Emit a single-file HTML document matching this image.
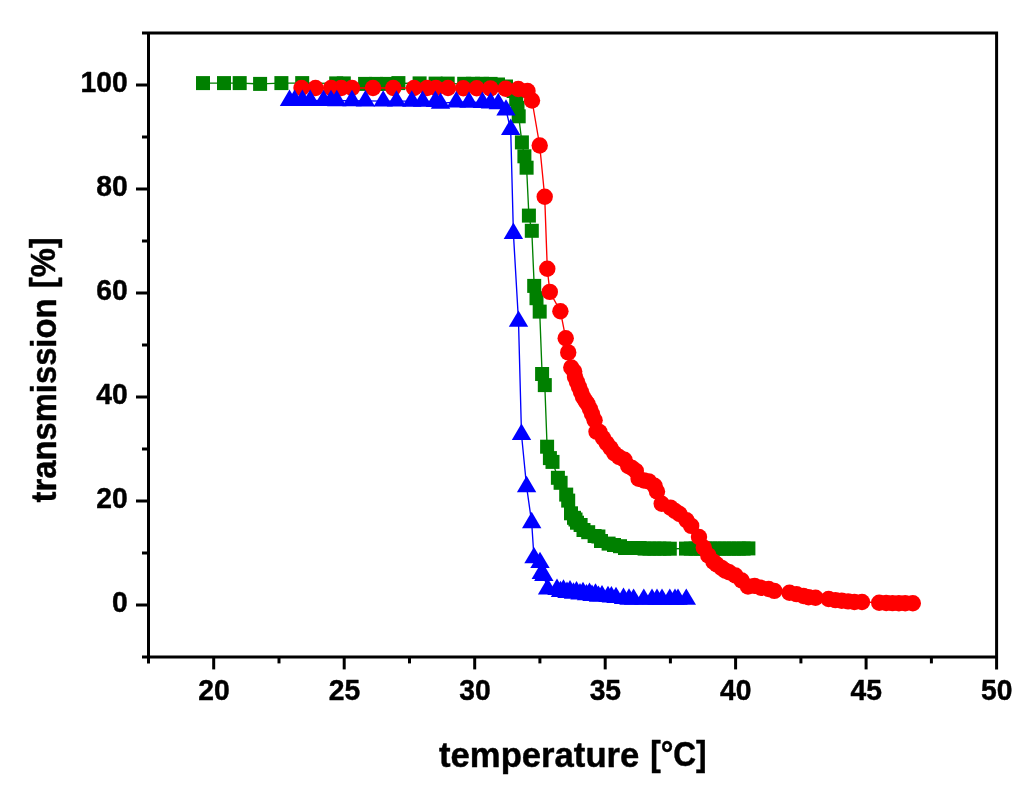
<!DOCTYPE html>
<html><head><meta charset="utf-8"><title>transmission vs temperature</title>
<style>html,body{margin:0;padding:0;background:#fff;}body{width:1024px;height:795px;overflow:hidden;}svg{display:block;}svg{will-change:transform;}text{font-family:"Liberation Sans",sans-serif;font-weight:bold;fill:#000;}</style></head><body>
<svg width="1024" height="795" viewBox="0 0 1024 795">
<rect x="0" y="0" width="1024" height="795" fill="#fff"/>
<polyline points="203.0,83.1 224.0,83.1 239.7,83.1 260.1,83.9 281.4,83.1 302.2,83.1 336.2,83.4 343.8,83.4 365.1,83.9 376.0,83.9 387.0,83.9 398.4,83.1 419.6,83.4 435.6,83.6 447.7,83.6 464.2,83.8 473.0,83.8 482.0,83.8 490.6,83.9 498.0,84.5 506.0,86.5 513.6,91.0 516.2,99.2 517.5,108.0 518.7,116.3 521.9,142.4 524.4,156.3 526.6,167.7 528.9,215.6 531.8,230.8 534.2,285.9 536.5,298.2 539.7,311.6 542.1,374.0 544.8,385.1 547.1,446.7 549.9,458.1 552.5,461.9 557.9,477.8 560.6,482.8 566.2,494.6 568.2,500.6 571.0,513.3 574.0,517.8 575.5,519.5 577.0,522.7 580.6,525.0 583.5,530.0 588.2,532.2 594.6,536.0 598.4,536.5 601.0,541.0 608.6,543.6 614.0,545.0 620.0,546.2 625.0,548.0 629.9,548.0 634.8,548.0 639.7,548.0 644.6,548.6 649.5,548.6 654.4,548.6 659.3,548.6 664.2,548.6 669.8,548.7 686.0,548.6 690.8,548.6 695.6,548.6 700.4,548.6 705.2,548.6 710.0,548.6 714.8,548.6 719.6,548.6 724.4,548.6 729.2,548.6 734.0,548.6 738.8,548.6 743.6,548.6 748.4,548.4" fill="none" stroke="#008000" stroke-width="1.35" stroke-linejoin="round"/>
<g fill="#008000">
<rect x="196.0" y="76.1" width="14" height="14"/>
<rect x="217.0" y="76.1" width="14" height="14"/>
<rect x="232.7" y="76.1" width="14" height="14"/>
<rect x="253.1" y="76.9" width="14" height="14"/>
<rect x="274.4" y="76.1" width="14" height="14"/>
<rect x="295.2" y="76.1" width="14" height="14"/>
<rect x="329.2" y="76.4" width="14" height="14"/>
<rect x="336.8" y="76.4" width="14" height="14"/>
<rect x="358.1" y="76.9" width="14" height="14"/>
<rect x="369.0" y="76.9" width="14" height="14"/>
<rect x="380.0" y="76.9" width="14" height="14"/>
<rect x="391.4" y="76.1" width="14" height="14"/>
<rect x="412.6" y="76.4" width="14" height="14"/>
<rect x="428.6" y="76.6" width="14" height="14"/>
<rect x="440.7" y="76.6" width="14" height="14"/>
<rect x="457.2" y="76.8" width="14" height="14"/>
<rect x="466.0" y="76.8" width="14" height="14"/>
<rect x="475.0" y="76.8" width="14" height="14"/>
<rect x="483.6" y="76.9" width="14" height="14"/>
<rect x="491.0" y="77.5" width="14" height="14"/>
<rect x="499.0" y="79.5" width="14" height="14"/>
<rect x="506.6" y="84.0" width="14" height="14"/>
<rect x="509.2" y="92.2" width="14" height="14"/>
<rect x="510.5" y="101.0" width="14" height="14"/>
<rect x="511.7" y="109.3" width="14" height="14"/>
<rect x="514.9" y="135.4" width="14" height="14"/>
<rect x="517.4" y="149.3" width="14" height="14"/>
<rect x="519.6" y="160.7" width="14" height="14"/>
<rect x="521.9" y="208.6" width="14" height="14"/>
<rect x="524.8" y="223.8" width="14" height="14"/>
<rect x="527.2" y="278.9" width="14" height="14"/>
<rect x="529.5" y="291.2" width="14" height="14"/>
<rect x="532.7" y="304.6" width="14" height="14"/>
<rect x="535.1" y="367.0" width="14" height="14"/>
<rect x="537.8" y="378.1" width="14" height="14"/>
<rect x="540.1" y="439.7" width="14" height="14"/>
<rect x="542.9" y="451.1" width="14" height="14"/>
<rect x="545.5" y="454.9" width="14" height="14"/>
<rect x="550.9" y="470.8" width="14" height="14"/>
<rect x="553.6" y="475.8" width="14" height="14"/>
<rect x="559.2" y="487.6" width="14" height="14"/>
<rect x="561.2" y="493.6" width="14" height="14"/>
<rect x="564.0" y="506.3" width="14" height="14"/>
<rect x="567.0" y="510.8" width="14" height="14"/>
<rect x="568.5" y="512.5" width="14" height="14"/>
<rect x="570.0" y="515.7" width="14" height="14"/>
<rect x="573.6" y="518.0" width="14" height="14"/>
<rect x="576.5" y="523.0" width="14" height="14"/>
<rect x="581.2" y="525.2" width="14" height="14"/>
<rect x="587.6" y="529.0" width="14" height="14"/>
<rect x="591.4" y="529.5" width="14" height="14"/>
<rect x="594.0" y="534.0" width="14" height="14"/>
<rect x="601.6" y="536.6" width="14" height="14"/>
<rect x="607.0" y="538.0" width="14" height="14"/>
<rect x="613.0" y="539.2" width="14" height="14"/>
<rect x="618.0" y="541.0" width="14" height="14"/>
<rect x="622.9" y="541.0" width="14" height="14"/>
<rect x="627.8" y="541.0" width="14" height="14"/>
<rect x="632.7" y="541.0" width="14" height="14"/>
<rect x="637.6" y="541.6" width="14" height="14"/>
<rect x="642.5" y="541.6" width="14" height="14"/>
<rect x="647.4" y="541.6" width="14" height="14"/>
<rect x="652.3" y="541.6" width="14" height="14"/>
<rect x="657.2" y="541.6" width="14" height="14"/>
<rect x="662.8" y="541.7" width="14" height="14"/>
<rect x="679.0" y="541.6" width="14" height="14"/>
<rect x="683.8" y="541.6" width="14" height="14"/>
<rect x="688.6" y="541.6" width="14" height="14"/>
<rect x="693.4" y="541.6" width="14" height="14"/>
<rect x="698.2" y="541.6" width="14" height="14"/>
<rect x="703.0" y="541.6" width="14" height="14"/>
<rect x="707.8" y="541.6" width="14" height="14"/>
<rect x="712.6" y="541.6" width="14" height="14"/>
<rect x="717.4" y="541.6" width="14" height="14"/>
<rect x="722.2" y="541.6" width="14" height="14"/>
<rect x="727.0" y="541.6" width="14" height="14"/>
<rect x="731.8" y="541.6" width="14" height="14"/>
<rect x="736.6" y="541.6" width="14" height="14"/>
<rect x="741.4" y="541.4" width="14" height="14"/>
</g>
<polyline points="301.5,88.0 315.5,88.0 331.1,88.0 341.3,88.0 352.0,88.0 373.0,88.0 393.3,88.0 414.0,88.0 427.0,88.0 436.0,88.0 448.0,88.0 463.3,88.2 476.7,88.2 490.4,88.4 505.6,88.7 518.3,89.0 527.5,91.0 532.0,100.5 539.7,145.5 544.7,196.8 547.3,268.8 549.8,291.9 560.4,311.2 565.7,338.2 568.2,352.4 571.3,367.5 574.2,371.5 575.0,377.0 577.0,382.0 579.0,387.0 581.0,392.0 583.0,397.0 585.5,401.0 587.6,404.0 590.0,409.0 592.0,414.0 594.6,420.3 596.5,431.7 599.5,432.0 603.0,438.0 606.7,443.2 610.5,448.0 614.3,453.3 619.0,457.0 624.4,459.7 628.2,466.0 632.0,468.0 635.8,470.9 638.6,478.8 644.0,480.5 648.8,481.4 654.5,485.8 657.0,491.5 661.7,503.8 670.5,507.6 675.0,511.0 679.5,514.0 686.5,520.2 691.2,525.9 699.0,537.0 703.8,547.6 708.3,555.4 713.4,561.6 716.8,564.5 721.6,567.9 725.4,570.6 729.1,572.3 735.4,575.5 741.7,580.5 748.0,586.5 754.6,585.9 760.9,587.8 768.6,589.0 774.3,590.9 789.5,592.8 796.5,594.1 803.5,596.0 808.5,597.3 815.5,597.7 828.6,599.0 835.4,600.1 841.7,600.8 848.1,601.4 854.4,602.0 862.0,602.0 879.2,602.7 886.2,603.0 892.5,603.1 898.9,603.3 905.2,603.3 912.8,603.3" fill="none" stroke="#ff0000" stroke-width="1.35" stroke-linejoin="round"/>
<g fill="#ff0000">
<circle cx="301.5" cy="88.0" r="8.2"/>
<circle cx="315.5" cy="88.0" r="8.2"/>
<circle cx="331.1" cy="88.0" r="8.2"/>
<circle cx="341.3" cy="88.0" r="8.2"/>
<circle cx="352.0" cy="88.0" r="8.2"/>
<circle cx="373.0" cy="88.0" r="8.2"/>
<circle cx="393.3" cy="88.0" r="8.2"/>
<circle cx="414.0" cy="88.0" r="8.2"/>
<circle cx="427.0" cy="88.0" r="8.2"/>
<circle cx="436.0" cy="88.0" r="8.2"/>
<circle cx="448.0" cy="88.0" r="8.2"/>
<circle cx="463.3" cy="88.2" r="8.2"/>
<circle cx="476.7" cy="88.2" r="8.2"/>
<circle cx="490.4" cy="88.4" r="8.2"/>
<circle cx="505.6" cy="88.7" r="8.2"/>
<circle cx="518.3" cy="89.0" r="8.2"/>
<circle cx="527.5" cy="91.0" r="8.2"/>
<circle cx="532.0" cy="100.5" r="8.2"/>
<circle cx="539.7" cy="145.5" r="8.2"/>
<circle cx="544.7" cy="196.8" r="8.2"/>
<circle cx="547.3" cy="268.8" r="8.2"/>
<circle cx="549.8" cy="291.9" r="8.2"/>
<circle cx="560.4" cy="311.2" r="8.2"/>
<circle cx="565.7" cy="338.2" r="8.2"/>
<circle cx="568.2" cy="352.4" r="8.2"/>
<circle cx="571.3" cy="367.5" r="8.2"/>
<circle cx="574.2" cy="371.5" r="8.2"/>
<circle cx="575.0" cy="377.0" r="8.2"/>
<circle cx="577.0" cy="382.0" r="8.2"/>
<circle cx="579.0" cy="387.0" r="8.2"/>
<circle cx="581.0" cy="392.0" r="8.2"/>
<circle cx="583.0" cy="397.0" r="8.2"/>
<circle cx="585.5" cy="401.0" r="8.2"/>
<circle cx="587.6" cy="404.0" r="8.2"/>
<circle cx="590.0" cy="409.0" r="8.2"/>
<circle cx="592.0" cy="414.0" r="8.2"/>
<circle cx="594.6" cy="420.3" r="8.2"/>
<circle cx="596.5" cy="431.7" r="8.2"/>
<circle cx="599.5" cy="432.0" r="8.2"/>
<circle cx="603.0" cy="438.0" r="8.2"/>
<circle cx="606.7" cy="443.2" r="8.2"/>
<circle cx="610.5" cy="448.0" r="8.2"/>
<circle cx="614.3" cy="453.3" r="8.2"/>
<circle cx="619.0" cy="457.0" r="8.2"/>
<circle cx="624.4" cy="459.7" r="8.2"/>
<circle cx="628.2" cy="466.0" r="8.2"/>
<circle cx="632.0" cy="468.0" r="8.2"/>
<circle cx="635.8" cy="470.9" r="8.2"/>
<circle cx="638.6" cy="478.8" r="8.2"/>
<circle cx="644.0" cy="480.5" r="8.2"/>
<circle cx="648.8" cy="481.4" r="8.2"/>
<circle cx="654.5" cy="485.8" r="8.2"/>
<circle cx="657.0" cy="491.5" r="8.2"/>
<circle cx="661.7" cy="503.8" r="8.2"/>
<circle cx="670.5" cy="507.6" r="8.2"/>
<circle cx="675.0" cy="511.0" r="8.2"/>
<circle cx="679.5" cy="514.0" r="8.2"/>
<circle cx="686.5" cy="520.2" r="8.2"/>
<circle cx="691.2" cy="525.9" r="8.2"/>
<circle cx="699.0" cy="537.0" r="8.2"/>
<circle cx="703.8" cy="547.6" r="8.2"/>
<circle cx="708.3" cy="555.4" r="8.2"/>
<circle cx="713.4" cy="561.6" r="8.2"/>
<circle cx="716.8" cy="564.5" r="8.2"/>
<circle cx="721.6" cy="567.9" r="8.2"/>
<circle cx="725.4" cy="570.6" r="8.2"/>
<circle cx="729.1" cy="572.3" r="8.2"/>
<circle cx="735.4" cy="575.5" r="8.2"/>
<circle cx="741.7" cy="580.5" r="8.2"/>
<circle cx="748.0" cy="586.5" r="8.2"/>
<circle cx="754.6" cy="585.9" r="8.2"/>
<circle cx="760.9" cy="587.8" r="8.2"/>
<circle cx="768.6" cy="589.0" r="8.2"/>
<circle cx="774.3" cy="590.9" r="8.2"/>
<circle cx="789.5" cy="592.8" r="8.2"/>
<circle cx="796.5" cy="594.1" r="8.2"/>
<circle cx="803.5" cy="596.0" r="8.2"/>
<circle cx="808.5" cy="597.3" r="8.2"/>
<circle cx="815.5" cy="597.7" r="8.2"/>
<circle cx="828.6" cy="599.0" r="8.2"/>
<circle cx="835.4" cy="600.1" r="8.2"/>
<circle cx="841.7" cy="600.8" r="8.2"/>
<circle cx="848.1" cy="601.4" r="8.2"/>
<circle cx="854.4" cy="602.0" r="8.2"/>
<circle cx="862.0" cy="602.0" r="8.2"/>
<circle cx="879.2" cy="602.7" r="8.2"/>
<circle cx="886.2" cy="603.0" r="8.2"/>
<circle cx="892.5" cy="603.1" r="8.2"/>
<circle cx="898.9" cy="603.3" r="8.2"/>
<circle cx="905.2" cy="603.3" r="8.2"/>
<circle cx="912.8" cy="603.3" r="8.2"/>
</g>
<polyline points="289.5,100.5 294.6,100.5 302.4,100.5 310.2,100.5 323.5,100.6 331.0,100.6 336.8,100.7 352.0,100.7 365.4,100.9 383.2,101.1 396.5,101.1 411.8,101.2 422.6,101.3 435.4,101.5 440.5,103.3 456.3,101.9 469.0,102.2 482.4,102.5 490.6,102.9 498.3,103.7 506.0,110.1 510.7,129.5 513.4,233.4 518.5,321.3 521.5,434.5 526.6,486.7 531.7,522.7 534.0,557.8 540.0,562.6 541.3,573.4 543.8,575.5 547.6,588.9 557.0,589.4 560.5,591.6 563.5,590.2 567.0,592.4 570.0,591.0 573.5,593.2 576.5,591.8 580.0,594.0 583.0,592.6 586.5,594.8 589.5,593.4 592.0,595.5 595.5,594.1 598.5,596.3 602.0,595.8 608.0,596.6 611.4,597.0 616.0,597.6 623.5,598.5 629.0,599.2 633.6,599.3 643.8,599.3 652.0,599.3 657.0,599.3 662.0,599.3 669.8,599.3 675.0,599.3 678.0,599.3 686.3,599.3" fill="none" stroke="#0000ff" stroke-width="1.35" stroke-linejoin="round"/>
<g fill="#0000ff">
<polygon points="289.5,89.6 299.2,106.0 279.8,106.0"/>
<polygon points="294.6,89.6 304.3,106.0 284.9,106.0"/>
<polygon points="302.4,89.6 312.1,106.0 292.7,106.0"/>
<polygon points="310.2,89.6 319.9,106.0 300.5,106.0"/>
<polygon points="323.5,89.7 333.2,106.1 313.8,106.1"/>
<polygon points="331.0,89.7 340.7,106.1 321.3,106.1"/>
<polygon points="336.8,89.8 346.5,106.2 327.1,106.2"/>
<polygon points="352.0,89.8 361.7,106.2 342.3,106.2"/>
<polygon points="365.4,90.0 375.1,106.4 355.7,106.4"/>
<polygon points="383.2,90.2 392.9,106.6 373.5,106.6"/>
<polygon points="396.5,90.2 406.2,106.6 386.8,106.6"/>
<polygon points="411.8,90.3 421.5,106.7 402.1,106.7"/>
<polygon points="422.6,90.4 432.3,106.8 412.9,106.8"/>
<polygon points="435.4,90.6 445.1,107.0 425.7,107.0"/>
<polygon points="440.5,92.4 450.2,108.8 430.8,108.8"/>
<polygon points="456.3,91.0 466.0,107.4 446.6,107.4"/>
<polygon points="469.0,91.3 478.7,107.7 459.3,107.7"/>
<polygon points="482.4,91.6 492.1,108.0 472.7,108.0"/>
<polygon points="490.6,92.0 500.3,108.4 480.9,108.4"/>
<polygon points="498.3,92.8 508.0,109.2 488.6,109.2"/>
<polygon points="506.0,99.2 515.7,115.6 496.3,115.6"/>
<polygon points="510.7,118.6 520.4,135.0 501.0,135.0"/>
<polygon points="513.4,222.5 523.1,238.9 503.7,238.9"/>
<polygon points="518.5,310.4 528.2,326.8 508.8,326.8"/>
<polygon points="521.5,423.6 531.2,440.0 511.8,440.0"/>
<polygon points="526.6,475.8 536.3,492.2 516.9,492.2"/>
<polygon points="531.7,511.8 541.4,528.2 522.0,528.2"/>
<polygon points="534.0,546.9 543.7,563.3 524.3,563.3"/>
<polygon points="540.0,551.7 549.7,568.1 530.3,568.1"/>
<polygon points="541.3,562.5 551.0,578.9 531.6,578.9"/>
<polygon points="543.8,564.6 553.5,581.0 534.1,581.0"/>
<polygon points="547.6,578.0 557.3,594.4 537.9,594.4"/>
<polygon points="557.0,578.5 566.7,594.9 547.3,594.9"/>
<polygon points="560.5,580.7 570.2,597.1 550.8,597.1"/>
<polygon points="563.5,579.3 573.2,595.7 553.8,595.7"/>
<polygon points="567.0,581.5 576.7,597.9 557.3,597.9"/>
<polygon points="570.0,580.1 579.7,596.5 560.3,596.5"/>
<polygon points="573.5,582.3 583.2,598.7 563.8,598.7"/>
<polygon points="576.5,580.9 586.2,597.3 566.8,597.3"/>
<polygon points="580.0,583.1 589.7,599.5 570.3,599.5"/>
<polygon points="583.0,581.7 592.7,598.1 573.3,598.1"/>
<polygon points="586.5,583.9 596.2,600.3 576.8,600.3"/>
<polygon points="589.5,582.5 599.2,598.9 579.8,598.9"/>
<polygon points="592.0,584.6 601.7,601.0 582.3,601.0"/>
<polygon points="595.5,583.2 605.2,599.6 585.8,599.6"/>
<polygon points="598.5,585.4 608.2,601.8 588.8,601.8"/>
<polygon points="602.0,584.9 611.7,601.3 592.3,601.3"/>
<polygon points="608.0,585.7 617.7,602.1 598.3,602.1"/>
<polygon points="611.4,586.1 621.1,602.5 601.7,602.5"/>
<polygon points="616.0,586.7 625.7,603.1 606.3,603.1"/>
<polygon points="623.5,587.6 633.2,604.0 613.8,604.0"/>
<polygon points="629.0,588.3 638.7,604.7 619.3,604.7"/>
<polygon points="633.6,588.4 643.3,604.8 623.9,604.8"/>
<polygon points="643.8,588.4 653.5,604.8 634.1,604.8"/>
<polygon points="652.0,588.4 661.7,604.8 642.3,604.8"/>
<polygon points="657.0,588.4 666.7,604.8 647.3,604.8"/>
<polygon points="662.0,588.4 671.7,604.8 652.3,604.8"/>
<polygon points="669.8,588.4 679.5,604.8 660.1,604.8"/>
<polygon points="675.0,588.4 684.7,604.8 665.3,604.8"/>
<polygon points="678.0,588.4 687.7,604.8 668.3,604.8"/>
<polygon points="686.3,588.4 696.0,604.8 676.6,604.8"/>
</g>
<g stroke="#000" stroke-width="3" fill="none" stroke-linecap="butt">
<path d="M142.0 33.1 H998.1 M142.0 656.9 H998.1 M148.5 31.6 V663.4 M996.6 31.6 V669.4"/>
<path d="M136.0 605.0 H148.5"/>
<path d="M142.0 553.0 H148.5"/>
<path d="M136.0 501.0 H148.5"/>
<path d="M142.0 449.0 H148.5"/>
<path d="M136.0 397.0 H148.5"/>
<path d="M142.0 345.0 H148.5"/>
<path d="M136.0 293.0 H148.5"/>
<path d="M142.0 241.0 H148.5"/>
<path d="M136.0 189.0 H148.5"/>
<path d="M142.0 137.0 H148.5"/>
<path d="M136.0 85.0 H148.5"/>
<path d="M213.7 656.9 V669.4"/>
<path d="M279.0 656.9 V663.4"/>
<path d="M344.2 656.9 V669.4"/>
<path d="M409.5 656.9 V663.4"/>
<path d="M474.7 656.9 V669.4"/>
<path d="M539.9 656.9 V663.4"/>
<path d="M605.2 656.9 V669.4"/>
<path d="M670.4 656.9 V663.4"/>
<path d="M735.6 656.9 V669.4"/>
<path d="M800.9 656.9 V663.4"/>
<path d="M866.1 656.9 V669.4"/>
<path d="M931.4 656.9 V663.4"/>
</g>
<g id="labels" stroke="#000" stroke-width="0.45" stroke-linejoin="round">
<text transform="translate(127.80 611.90) scale(0.9500 1)" font-size="29.8" text-anchor="end">0</text>
<text transform="translate(127.80 507.90) scale(0.9500 1)" font-size="29.8" text-anchor="end">20</text>
<text transform="translate(127.80 403.90) scale(0.9500 1)" font-size="29.8" text-anchor="end">40</text>
<text transform="translate(127.80 299.90) scale(0.9500 1)" font-size="29.8" text-anchor="end">60</text>
<text transform="translate(127.80 195.90) scale(0.9500 1)" font-size="29.8" text-anchor="end">80</text>
<text transform="translate(127.80 91.90) scale(0.9500 1)" font-size="29.8" text-anchor="end">100</text>
<text transform="translate(213.94 700.20) scale(0.9500 1)" font-size="29.8" text-anchor="middle">20</text>
<text transform="translate(344.42 700.20) scale(0.9500 1)" font-size="29.8" text-anchor="middle">25</text>
<text transform="translate(474.89 700.20) scale(0.9500 1)" font-size="29.8" text-anchor="middle">30</text>
<text transform="translate(605.37 700.20) scale(0.9500 1)" font-size="29.8" text-anchor="middle">35</text>
<text transform="translate(735.85 700.20) scale(0.9500 1)" font-size="29.8" text-anchor="middle">40</text>
<text transform="translate(866.32 700.20) scale(0.9500 1)" font-size="29.8" text-anchor="middle">45</text>
<text transform="translate(996.80 700.20) scale(0.9500 1)" font-size="29.8" text-anchor="middle">50</text>
<text transform="translate(439.00 766.80) scale(1.0050 1)" font-size="34.5" text-anchor="start">temperature</text>
<text transform="translate(650.20 766.00) scale(0.9150 1)" font-size="34.5" text-anchor="start">[°C]</text>
<text transform="translate(56.10 502.40) rotate(-90) scale(0.9500 1)" font-size="34.5" text-anchor="start">transmission</text>
<text transform="translate(55.30 288.20) rotate(-90) scale(0.9500 1)" font-size="34.5" text-anchor="start">[%]</text>
</g>
</svg></body></html>
